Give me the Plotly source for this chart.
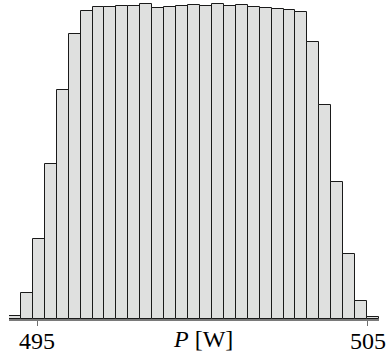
import numpy as np
import plotly.graph_objects as go

# Histogram data (bin edges in W, bar heights in counts)
bin_lo = 494.153
bin_hi = 505.333
n_bins = 31
counts = [2.8, 26.2, 80.2, 155.2, 229.8, 285.8, 308.8, 312.8, 312.8, 313.8,
          313.8, 315.2, 311.2, 312.5, 313.2, 314.2, 313.2, 315.5, 313.2, 314.2,
          312.2, 311.5, 310.8, 309.5, 307.8, 277.8, 214.8, 137.5, 65.5, 17.8, 1.8]
tick_vals = [495, 505]
tick_text = ["495", "505"]
x_label = "<i>P</i> [W]"

edges = np.linspace(bin_lo, bin_hi, n_bins + 1)
centers = (edges[:-1] + edges[1:]) / 2
width = edges[1] - edges[0]

fig = go.Figure(go.Bar(
    x=centers, y=counts, width=width,
    marker=dict(color="#dfe0df", line=dict(color="#1a1a1a", width=1)),
    hoverinfo="skip",
))

serif = "Liberation Serif, Times New Roman, serif"
fig.update_layout(
    width=387, height=360,
    margin=dict(l=9, r=8, t=0, b=40.5),
    paper_bgcolor="white", plot_bgcolor="white",
    bargap=0, showlegend=False,
    font=dict(family=serif, size=24, color="black"),
    xaxis=dict(range=[bin_lo, bin_hi], tickvals=tick_vals, ticktext=tick_text,
               ticks="outside", ticklen=5, tickcolor="#707070", tickwidth=1,
               ticklabelstandoff=-6,
               showline=True, linecolor="#7a7a7a", linewidth=1.5,
               showgrid=False, zeroline=False,
               tickfont=dict(family=serif, size=24, color="black")),
    yaxis=dict(range=[0, 319.5], visible=False, showgrid=False, zeroline=False),
    annotations=[dict(x=500, y=0, xref="x", yref="paper", text=x_label,
                      showarrow=False, yanchor="top", xanchor="center",
                      yshift=-5, font=dict(family=serif, size=24, color="black"))],
)

fig.write_html("out.html", config={"displayModeBar": False},
               post_script="document.body.style.margin='0';document.body.style.overflow='hidden';")
